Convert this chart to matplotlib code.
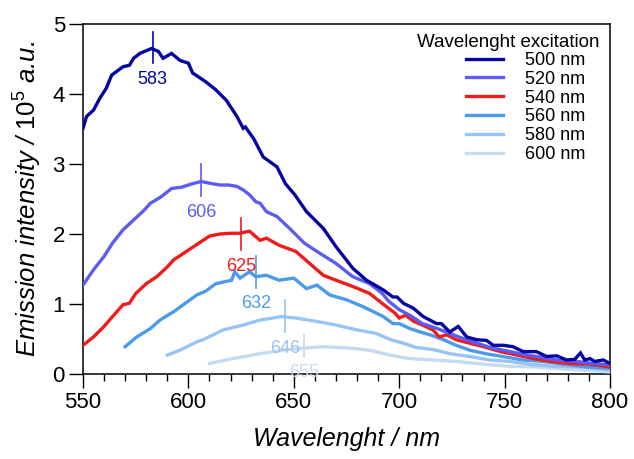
import numpy as np
import matplotlib
matplotlib.use('Agg')
import matplotlib.pyplot as plt
from matplotlib.ticker import MultipleLocator

plt.rcParams['font.family'] = ['Liberation Sans', 'DejaVu Sans']
plt.rcParams['mathtext.fontset'] = 'custom'
plt.rcParams['mathtext.rm'] = 'Liberation Sans'
plt.rcParams['mathtext.it'] = 'Liberation Sans:italic'

# emission spektra (nm, 10^5 a.u.)
wl_500 = [550, 551.7, 555, 558, 561, 563.6, 569, 572, 574, 577, 582.5, 585.7, 588, 592, 596, 600, 602,
          608, 613, 618, 623, 626, 627, 631, 635.5, 642, 646, 650.5, 656, 664, 670, 678, 684.5, 692.5,
          697, 699, 702, 706.7, 711.4, 714.6, 717.7, 720, 724, 728, 732, 736.7, 741.4, 744.6, 749.3,
          754, 758.8, 765, 770, 774.7, 779.4, 783.3, 786, 788, 790.5, 792.8, 796.8, 800]
em_500 = [3.51, 3.68, 3.77, 3.94, 4.08, 4.27, 4.39, 4.41, 4.51, 4.58, 4.65, 4.61, 4.51, 4.58, 4.48, 4.44, 4.30,
          4.18, 4.06, 3.91, 3.68, 3.51, 3.53, 3.36, 3.10, 2.96, 2.72, 2.56, 2.32, 2.08, 1.82, 1.51, 1.34, 1.20,
          1.10, 1.10, 1.01, 0.94, 0.82, 0.77, 0.72, 0.72, 0.60, 0.68, 0.53, 0.49, 0.48, 0.41, 0.41,
          0.39, 0.32, 0.32, 0.25, 0.26, 0.20, 0.21, 0.30, 0.20, 0.22, 0.18, 0.20, 0.15]

wl_520 = [550, 555, 560, 564, 569, 574, 579, 582, 587, 592, 597, 601, 606, 611, 615, 619, 623, 626, 629,
          632, 634, 637, 642, 648, 655, 661, 670, 678, 686, 692, 695, 700, 705, 711, 718, 724, 730, 737,
          743, 751, 759, 767, 775, 784, 792, 800]
em_520 = [1.27, 1.49, 1.68, 1.87, 2.06, 2.20, 2.34, 2.44, 2.53, 2.65, 2.67, 2.71, 2.75, 2.72, 2.70, 2.70, 2.68,
          2.63, 2.56, 2.46, 2.44, 2.32, 2.25, 2.08, 1.87, 1.75, 1.58, 1.39, 1.29, 1.15, 1.04, 0.92, 0.84,
          0.72, 0.65, 0.58, 0.51, 0.44, 0.38, 0.33, 0.28, 0.24, 0.20, 0.18, 0.15, 0.13]

wl_540 = [550, 555, 560, 564, 569, 572, 575, 580, 585, 590, 593, 599, 605, 610, 615, 620, 624, 629, 634,
          637, 643, 651, 657.5, 664, 670, 678, 686, 694, 698, 700, 703, 707, 711, 716, 719, 722.5, 727,
          733.5, 740, 748, 756, 764, 771.5, 781, 790.5, 800]
em_540 = [0.41, 0.53, 0.68, 0.82, 0.99, 1.01, 1.15, 1.29, 1.39, 1.53, 1.63, 1.75, 1.87, 1.97, 2.00, 2.01, 2.01,
          2.04, 1.91, 1.94, 1.84, 1.75, 1.58, 1.41, 1.34, 1.25, 1.15, 0.96, 0.87, 0.80, 0.84, 0.75, 0.70,
          0.63, 0.53, 0.56, 0.49, 0.44, 0.39, 0.32, 0.27, 0.22, 0.18, 0.15, 0.14, 0.10]

wl_560 = [570, 575.5, 582, 586.5, 593, 597.6, 604, 608, 613, 620.5, 622, 624.5, 629, 632, 637, 643, 650,
          656, 661, 667, 675, 683, 692.5, 697, 700, 705, 710, 714.6, 721, 727, 733.5, 741, 749, 759,
          768, 778, 789, 800]
em_560 = [0.39, 0.53, 0.65, 0.77, 0.89, 0.99, 1.13, 1.18, 1.29, 1.34, 1.46, 1.37, 1.46, 1.39, 1.41, 1.34, 1.37,
          1.22, 1.27, 1.13, 1.06, 0.96, 0.82, 0.72, 0.72, 0.65, 0.60, 0.56, 0.49, 0.41, 0.34, 0.29, 0.25,
          0.20, 0.18, 0.14, 0.10, 0.08]

wl_580 = [590, 596, 604, 607, 616.5, 626, 634, 644, 651, 661, 670, 680, 689, 696, 702, 708, 716, 724,
          733.5, 743, 752.5, 762, 773, 786, 800]
em_580 = [0.27, 0.34, 0.46, 0.49, 0.63, 0.70, 0.77, 0.82, 0.80, 0.75, 0.70, 0.63, 0.58, 0.49, 0.44, 0.38,
          0.35, 0.29, 0.25, 0.20, 0.18, 0.14, 0.11, 0.10, 0.06]

wl_600 = [610, 621, 634, 645, 654.5, 664, 676.6, 686, 695.6, 705, 716, 727, 740, 752.5, 765, 778, 790.5, 800]
em_600 = [0.15, 0.22, 0.29, 0.34, 0.37, 0.39, 0.37, 0.34, 0.27, 0.22, 0.20, 0.18, 0.14, 0.11, 0.10, 0.07,
          0.05, 0.03]

labels = ['500 nm', '520 nm', '540 nm', '560 nm', '580 nm', '600 nm']
colors = ['#0505A3', '#5C5CF2', '#F21A1A', '#4C9BEA', '#98C4F3', '#C6DAF0']

# topper
peak_wl = [583, 606, 625, 632, 646, 655]
peak_em = [4.66, 2.77, 2.00, 1.46, 0.83, 0.41]
peak_half = [0.22, 0.23, 0.23, 0.23, 0.23, 0.16]

fig, ax = plt.subplots(figsize=(6.34, 4.59), dpi=100)
fig.subplots_adjust(left=83/634, right=610/634, bottom=1-374/459, top=1-24/459)

series = [(wl_500, em_500), (wl_520, em_520), (wl_540, em_540),
          (wl_560, em_560), (wl_580, em_580), (wl_600, em_600)]
for i, (x, y) in enumerate(series):
    ax.plot(x, y, color=colors[i], lw=2.4, label=labels[i], zorder=10 - i,
            solid_joinstyle='miter')
    ax.plot([peak_wl[i], peak_wl[i]], [peak_em[i] - peak_half[i], peak_em[i] + peak_half[i]],
            color=colors[i], lw=1.2, zorder=10 - i)
    ax.text(peak_wl[i], peak_em[i] - peak_half[i] - 0.23, str(peak_wl[i]), color=colors[i],
            fontsize=13, ha='center', va='center', zorder=20)

ax.set_xlim(550, 800)
ax.set_ylim(0, 5)
ax.xaxis.set_major_locator(MultipleLocator(50))
ax.xaxis.set_minor_locator(MultipleLocator(10))
ax.yaxis.set_major_locator(MultipleLocator(1))
ax.tick_params(axis='both', which='major', direction='out', length=10, width=1, labelsize=16, pad=3)
ax.tick_params(axis='x', which='minor', direction='out', length=5, width=1)
for s in ax.spines.values():
    s.set_linewidth(1.1)

ax.set_xlabel('Wavelenght / nm', fontsize=18, style='italic', labelpad=10)
ax.set_ylabel(r'Emission intensity / $\mathit{10^{5}}$ a.u.', fontsize=18.5, style='italic', labelpad=6)

# legende med egen tittel
ax.text(0.981, 0.946, 'Wavelenght excitation', transform=ax.transAxes, fontsize=13.5,
        ha='right', va='center')
leg = ax.legend(loc='upper left', bbox_to_anchor=(0.727, 0.92), frameon=False, fontsize=13,
                handlelength=2.05, labelspacing=0.1, handletextpad=1.2, borderpad=0,
                borderaxespad=0)

plt.savefig('out.png', dpi=100)
